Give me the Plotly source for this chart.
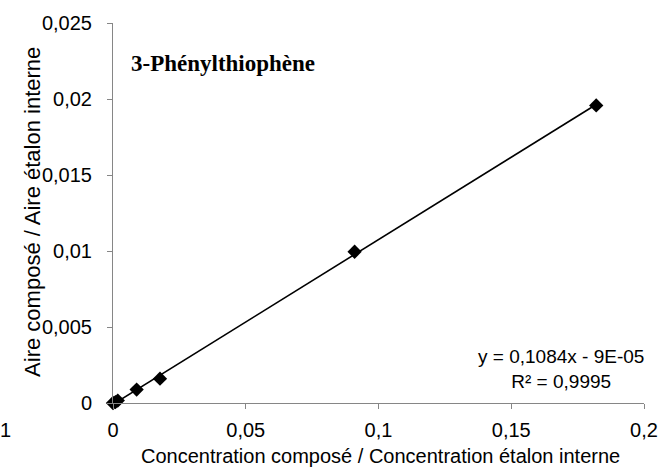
import plotly.graph_objects as go

# Calibration data: concentration ratio vs. peak-area ratio
conc_ratio = [0.0, 0.0009, 0.0018, 0.0089, 0.0177, 0.091, 0.182]
area_ratio = [0.0, 0.00006, 0.00016, 0.00088, 0.00160, 0.00995, 0.01958]

# Linear trendline parameters (as reported on the chart)
slope = 0.1084
intercept = -9e-05
r_squared = 0.9995

x_ticks = [0, 0.05, 0.1, 0.15, 0.2]
x_ticktext = ["0", "0,05", "0,1", "0,15", "0,2"]
y_ticks = [0, 0.005, 0.01, 0.015, 0.02, 0.025]
y_ticktext = ["0", "0,005", "0,01", "0,015", "0,02", "0,025"]

x_fit = [min(conc_ratio), max(conc_ratio)]
y_fit = [slope * v + intercept for v in x_fit]

axis_color = "#868686"
sans = "Liberation Sans, Arial, sans-serif"

# plot-area geometry in pixels (used to place the free text)
L, R, T, B = 113, 653, 20, 403
W, H = R - L, B - T


def px(x):
    return (x - L) / W


def py(y):
    return (B - y) / H


fig = go.Figure()
fig.add_trace(go.Scatter(
    x=x_fit, y=y_fit, mode="lines",
    line=dict(color="black", width=1.6),
    hoverinfo="skip", showlegend=False, cliponaxis=False,
))
fig.add_trace(go.Scatter(
    x=conc_ratio, y=area_ratio, mode="markers",
    marker=dict(symbol="diamond", size=11, color="black"),
    showlegend=False, cliponaxis=False,
))

fig.update_layout(
    width=670, height=471,
    margin=dict(l=L, r=670 - R, t=T, b=471 - B),
    paper_bgcolor="white", plot_bgcolor="white",
    font=dict(family=sans, size=20, color="black"),
    xaxis=dict(
        range=[0, 0.2], tickvals=x_ticks, ticktext=x_ticktext,
        showgrid=False, zeroline=False, showline=True,
        linecolor=axis_color, linewidth=1,
        ticks="outside", ticklen=5, tickcolor=axis_color,
        tickfont=dict(size=20), ticklabelstandoff=4,
    ),
    yaxis=dict(
        range=[0, 0.025], tickvals=y_ticks, ticktext=y_ticktext,
        showgrid=False, zeroline=False, showline=True,
        linecolor=axis_color, linewidth=1,
        ticks="outside", ticklen=5, tickcolor=axis_color,
        tickfont=dict(size=20), ticklabelstandoff=11,
    ),
    annotations=[
        dict(text="<b>3-Phénylthiophène</b>", xref="paper", yref="paper",
             x=px(129), y=py(61), xanchor="left", yanchor="middle",
             showarrow=False,
             font=dict(family="Liberation Serif, Times New Roman, serif", size=23)),
        dict(text=f"y = {str(slope).replace('.', ',')}x - 9E-05<br>R² = {str(r_squared).replace('.', ',')}",
             xref="paper", yref="paper", x=px(655), y=py(369),
             xanchor="right", yanchor="middle", align="center", showarrow=False,
             font=dict(size=19)),
        dict(text="Concentration composé / Concentration étalon interne",
             xref="paper", yref="paper", x=px(385), y=py(456),
             xanchor="center", yanchor="middle", showarrow=False,
             font=dict(size=20)),
        dict(text="Aire composé / Aire étalon interne",
             xref="paper", yref="paper", x=px(31), y=py(210),
             xanchor="center", yanchor="middle", textangle=-90, showarrow=False,
             font=dict(size=22)),
        dict(text="1", xref="paper", yref="paper",
             x=px(4), y=py(430),
             xanchor="center", yanchor="middle", showarrow=False,
             font=dict(size=20)),
    ],
)

fig.write_html("out.html")
